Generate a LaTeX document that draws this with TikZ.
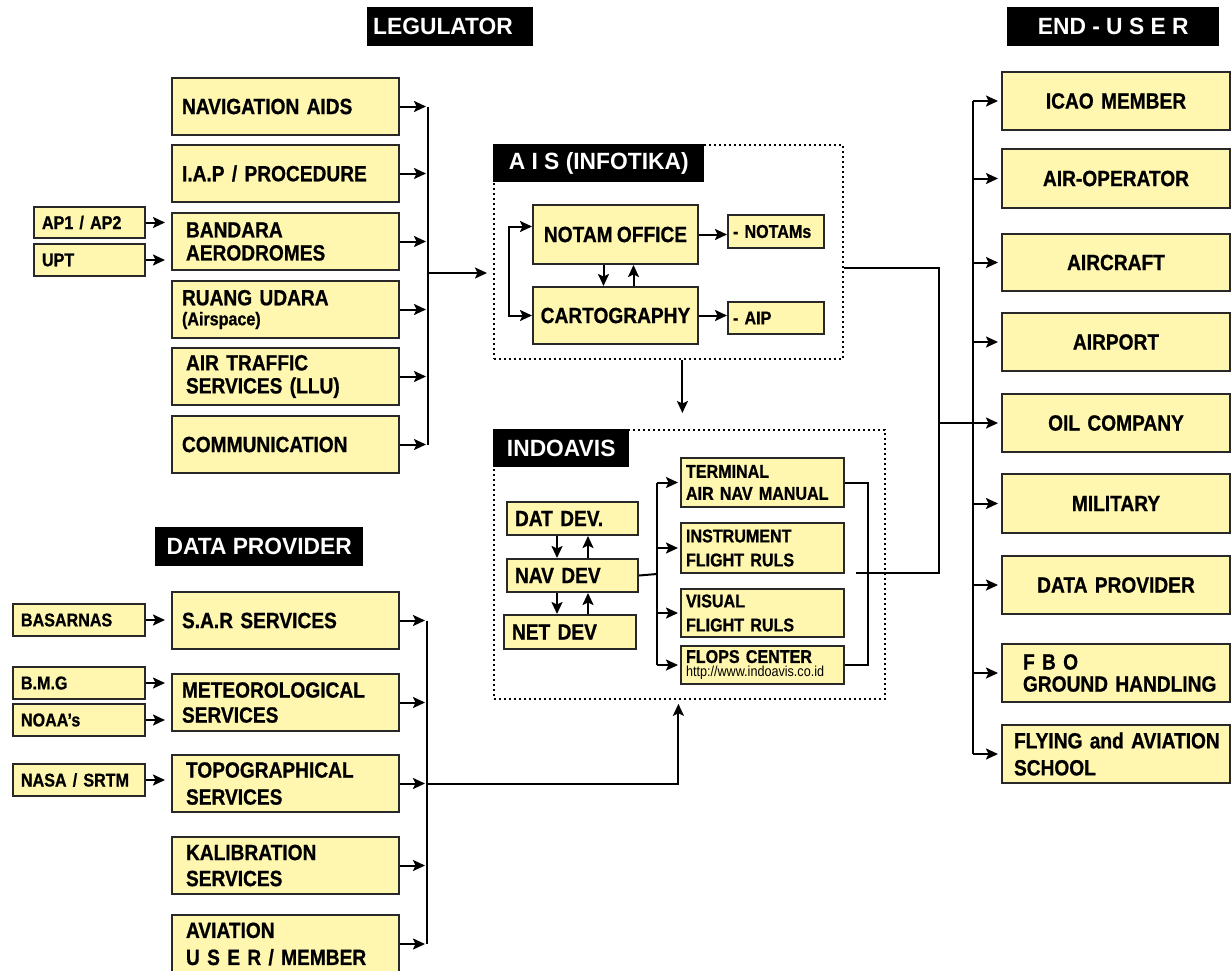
\documentclass[tikz,border=0pt]{standalone}
\usepackage{fontspec}
\setmainfont[FakeStretch=0.87, WordSpace=0.8, BoldFeatures={FakeBold=0.8}]{Liberation Sans}
\newfontfamily\lblfamily[FakeStretch=0.97]{Liberation Sans}
\usetikzlibrary{arrows.meta}
\definecolor{boxfill}{RGB}{255,246,176}
\definecolor{boxline}{RGB}{40,40,40}
\hyphenpenalty=10000
\exhyphenpenalty=10000
\newcommand\boxfont{\fontsize{22}{25}\selectfont\bfseries}
\newcommand\srcfont{\fontsize{18.5}{23}\selectfont\bfseries}
\newcommand\lblfont{\lblfamily\bfseries\fontsize{23.5}{26}\selectfont}
\newcommand\linkfont{\fontsize{14.5}{16}\selectfont\mdseries}

\begin{document}
\begin{tikzpicture}[x=1pt, y=-1pt,
  box/.style = {draw=boxline, line width=2pt, fill=boxfill, anchor=north west, align=left, inner xsep=10pt, inner ysep=0pt, font=\boxfont},
  leg/.style = {box, text width=207pt, minimum height=57pt},
  legi/.style = {leg, inner xsep=14pt, text width=199pt},
  src/.style = {box, font=\srcfont, inner xsep=8pt, minimum height=31pt},
  srcl/.style = {src, text width=95pt},
  srcd/.style = {src, text width=116pt, minimum height=32pt},
  dev/.style = {box, inner xsep=8pt, text width=115pt, minimum height=33pt},
  prod/.style = {box, font=\srcfont, inner xsep=5pt, text width=153pt},
  pub/.style = {box, font=\srcfont, inner xsep=5pt, text width=86pt, minimum height=33pt},
  usr/.style = {box, text width=208pt, minimum height=58pt, align=center},
  lbl/.style = {fill=black, text=white, font=\lblfont, anchor=north west, minimum height=39pt, inner xsep=6pt, inner ysep=0pt},
  dotbox/.style = {draw, line width=1.8pt, dash pattern=on 1.8pt off 3.2pt, anchor=north west, inner sep=0pt},
  wire/.style = {line width=2pt},
  arr/.style = {line width=2pt, -{Stealth[length=12pt,width=11pt,inset=2.5pt]}},
  arr2/.style = {line width=2pt, {Stealth[length=12pt,width=11pt,inset=2.5pt]}-{Stealth[length=12pt,width=11pt,inset=2.5pt]}}]
\useasboundingbox (0,0) rectangle (1231,970);

\node[lbl, text width=154pt, align=left] (leglbl) at (367,7) {LEGULATOR};
\node[leg] (nav) at (171,77) {NAVIGATION AIDS};
\node[leg] (iap) at (171,144) {I.A.P / PROCEDURE};
\node[legi] (band) at (171,212) {BANDARA\\[-2pt]AERODROMES};
\node[leg] (ruang) at (171,280) {RUANG UDARA\\[-5pt]{\srcfont (Airspace)}};
\node[legi] (atc) at (171,347) {AIR TRAFFIC\\[-2pt]SERVICES (LLU)};
\node[leg] (comm) at (171,415) {COMMUNICATION};
\node[srcl] (ap) at (33,206) {AP1 / AP2};
\node[srcl, minimum height=32pt] (upt) at (33,243) {UPT};

\node[lbl, minimum width=208pt] (dplbl) at (155,527) {DATA PROVIDER};
\node[leg] (sar) at (171,591) {S.A.R SERVICES};
\node[leg] (met) at (171,673) {METEOROLOGICAL\\SERVICES};
\node[legi] (topo) at (171,754) {TOPOGRAPHICAL\\[2pt]SERVICES};
\node[legi] (kal) at (171,836) {KALIBRATION\\[1pt]SERVICES};
\node[legi, minimum height=58pt] (avi) at (171,914) {AVIATION\\[2pt]U S E R / MEMBER};
\node[srcd] (basar) at (12,603) {BASARNAS};
\node[srcd] (bmg) at (12,666) {B.M.G};
\node[srcd] (noaa) at (12,703) {NOAA’s};
\node[srcd] (nasa) at (12,763) {NASA / SRTM};

\node[dotbox, minimum width=349pt, minimum height=214pt] (ais) at (493,144) {};
\node[lbl, minimum width=211pt, minimum height=38pt] (aislbl) at (493,144) {A I S (INFOTIKA)};
\node[box, minimum width=165pt, minimum height=59pt] (notam) at (532,204) {NOTAM OFFICE};
\node[box, inner xsep=6pt, minimum width=165pt, minimum height=57pt] (carto) at (532,286) {CARTOGRAPHY};
\node[pub] (notams) at (727,214) {- NOTAMs};
\node[pub, minimum height=32pt] (aip) at (727,301) {- AIP};

\node[dotbox, minimum width=391pt, minimum height=269pt] (indo) at (493,429) {};
\node[lbl, minimum width=136pt, minimum height=38pt] (indolbl) at (493,429) {INDOAVIS};
\node[dev] (dat) at (506,501) {DAT DEV.};
\node[dev] (navd) at (506,558) {NAV DEV};
\node[dev, text width=116pt, minimum height=34pt] (net) at (503,614) {NET DEV};
\node[prod, minimum height=49pt] (term) at (680,457) {TERMINAL\\[-1pt]AIR NAV MANUAL};
\node[prod, minimum height=50pt] (ifr) at (680,522) {INSTRUMENT\\[1pt]FLIGHT RULS};
\node[prod, minimum height=48pt] (vfr) at (680,588) {VISUAL\\[1pt]FLIGHT RULS};
\node[prod, minimum height=38pt] (flops) at (680,645) {FLOPS CENTER\\[-9pt]{\linkfont http://www.indoavis.co.id}};

\node[lbl, minimum width=212pt] (eulbl) at (1007,7) {END - U S E R};
\node[usr] (icao) at (1001,71) {ICAO MEMBER};
\node[usr, minimum height=59pt] (airop) at (1001,148) {AIR-OPERATOR};
\node[usr, minimum height=57pt] (acft) at (1001,233) {AIRCRAFT};
\node[usr] (aprt) at (1001,312) {AIRPORT};
\node[usr] (oil) at (1001,393) {OIL COMPANY};
\node[usr, minimum height=59pt] (mil) at (1001,473) {MILITARY};
\node[usr] (dprov) at (1001,555) {DATA PROVIDER};
\node[usr, align=left] (fbo) at (1001,643) {\hspace*{11pt}F B O\\[-3pt]\hspace*{11pt}GROUND HANDLING};
\node[usr, align=left, inner xsep=10pt] (fly) at (1001,724) {\hspace*{2pt}FLYING and AVIATION\\[2pt]\hspace*{2pt}SCHOOL};

\coordinate (lbus) at (428,273);
\draw[arr, shorten >=2pt] (nav.east) -- (nav.east -| lbus); \draw[arr, shorten >=2pt] (iap.east) -- (iap.east -| lbus);
\draw[arr, shorten >=2pt] (band.east) -- (band.east -| lbus); \draw[arr, shorten >=2pt] (ruang.east) -- (ruang.east -| lbus);
\draw[arr, shorten >=2pt] (atc.east) -- (atc.east -| lbus); \draw[arr, shorten >=2pt] (comm.east) -- (comm.east -| lbus);
\draw[wire] (nav.east -| lbus) -- (comm.east -| lbus);
\draw[arr, shorten >=6pt] (lbus) -- (lbus -| ais.west);
\draw[arr, shorten >=6pt] (ap.east) -- (ap.east -| band.west); \draw[arr, shorten >=6pt] (upt.east) -- (upt.east -| band.west);

\draw[arr] (notam.east) -- (notam.east -| notams.west); \draw[arr] (carto.east) -- (carto.east -| aip.west);
\draw[arr] ([xshift=-12pt]notam.south) -- ([xshift=-12pt]notam.south |- carto.north); \draw[arr] ([xshift=18pt]notam.south |- carto.north) -- ([xshift=18pt]notam.south);
\draw[arr2] ([yshift=8pt]notam.west) -- ++(-23,0) |- (carto.west);
\draw[arr, shorten >=16pt] ([xshift=14pt]ais.south) -- ([xshift=14pt]ais.south |- indo.north);

\draw[arr] ([xshift=-15.5pt]dat.south) -- ([xshift=-15.5pt]dat.south |- navd.north); \draw[arr] ([xshift=15.5pt]dat.south |- navd.north) -- ([xshift=15.5pt]dat.south);
\draw[arr] ([xshift=-15.5pt]navd.south) -- ([xshift=-15.5pt]navd.south |- net.north); \draw[arr] ([xshift=15.5pt]navd.south |- net.north) -- ([xshift=15.5pt]navd.south);
\coordinate (ibus) at (657,574);
\draw[wire] (navd.east) -- (ibus); \draw[wire] (ibus |- term.west) -- (ibus |- flops.west);
\draw[arr, shorten >=2pt] (ibus |- term.west) -- (term.west); \draw[arr, shorten >=2pt] (ibus |- ifr.west) -- (ifr.west);
\draw[arr, shorten >=2pt] (ibus |- vfr.west) -- (vfr.west); \draw[arr, shorten >=2pt] (ibus |- flops.west) -- (flops.west);
\draw[wire] (term.east) -- ++(23,0) |- (flops.east);

\coordinate (trunk) at (939,573); \coordinate (tend) at (856,573);
\draw[wire] ([yshift=-16pt]ais.east) -| (trunk) -- (tend);
\draw[arr, shorten >=3pt] (trunk |- oil.west) -- (oil.west);
\coordinate (ubus) at (973,100);
\draw[wire] (ubus |- icao.west) -- (ubus |- fly.west);
\draw[arr, shorten >=3pt] (ubus |- icao.west) -- (icao.west); \draw[arr, shorten >=3pt] (ubus |- airop.west) -- (airop.west);
\draw[arr, shorten >=3pt] (ubus |- acft.west) -- (acft.west); \draw[arr, shorten >=3pt] (ubus |- aprt.west) -- (aprt.west);
\draw[arr, shorten >=3pt] (ubus |- mil.west) -- (mil.west); \draw[arr, shorten >=3pt] (ubus |- dprov.west) -- (dprov.west);
\draw[arr, shorten >=3pt] (ubus |- fbo.west) -- (fbo.west); \draw[arr, shorten >=3pt] (ubus |- fly.west) -- (fly.west);

\coordinate (dbus) at (427,786);
\draw[arr, shorten >=2pt] (sar.east) -- (sar.east -| dbus); \draw[arr, shorten >=2pt] (met.east) -- (met.east -| dbus);
\draw[arr, shorten >=2pt] (topo.east) -- (topo.east -| dbus); \draw[arr, shorten >=2pt] (kal.east) -- (kal.east -| dbus);
\draw[arr, shorten >=2pt] (avi.east) -- (avi.east -| dbus);
\draw[wire] (sar.east -| dbus) -- (avi.east -| dbus);
\draw[arr, shorten >=4pt] (topo.east -| dbus) -| ([xshift=-11pt]indo.south);
\draw[arr, shorten >=6pt] (basar.east) -- (basar.east -| sar.west); \draw[arr, shorten >=6pt] (bmg.east) -- (bmg.east -| met.west);
\draw[arr, shorten >=6pt] (noaa.east) -- (noaa.east -| met.west); \draw[arr, shorten >=6pt] (nasa.east) -- (nasa.east -| topo.west);
\end{tikzpicture}
\end{document}
